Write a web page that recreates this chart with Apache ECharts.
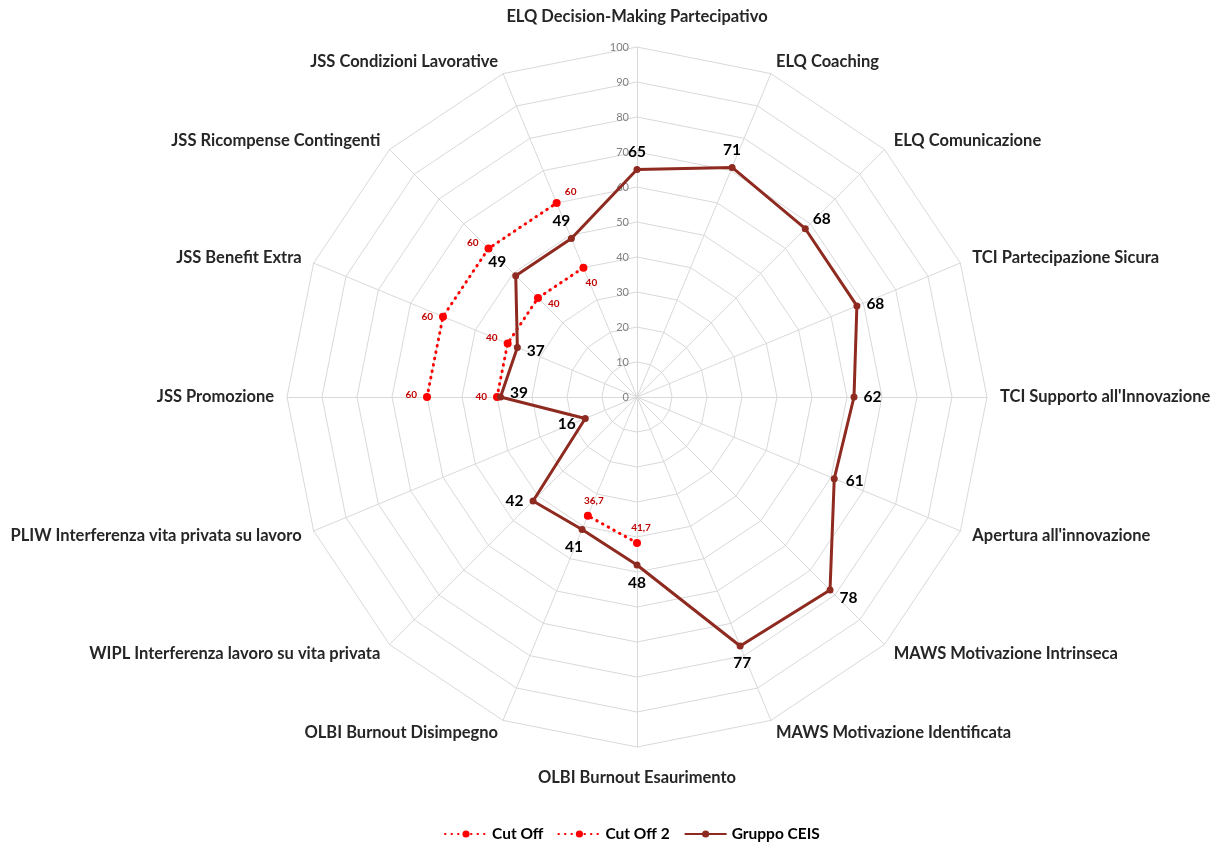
<!DOCTYPE html>
<html>
<head>
<meta charset="utf-8">
<script src="https://cdn.jsdelivr.net/npm/echarts@6/dist/echarts.min.js"></script>
<style>
html,body{margin:0;padding:0;background:#fff;}
#chart{width:1219px;height:843px;}
</style>
</head>
<body>
<div id="chart"></div>
<script>
// ---- data (clockwise from top) ----
var categories = [
  "ELQ Decision-Making Partecipativo",
  "ELQ Coaching",
  "ELQ Comunicazione",
  "TCI Partecipazione Sicura",
  "TCI Supporto all'Innovazione",
  "Apertura all'innovazione",
  "MAWS Motivazione Intrinseca",
  "MAWS Motivazione Identificata",
  "OLBI Burnout Esaurimento",
  "OLBI Burnout Disimpegno",
  "WIPL Interferenza lavoro su vita privata",
  "PLIW Interferenza vita privata su lavoro",
  "JSS Promozione",
  "JSS Benefit Extra",
  "JSS Ricompense Contingenti",
  "JSS Condizioni Lavorative"
];
var cutOff   = [null,null,null,null,null,null,null,null,41.7,36.7,null,null,60,60,60,60];
var cutOff2  = [null,null,null,null,null,null,null,null,null,null,null,null,40,40,40,40];
var gruppoCEIS = [65,71,68,68,62,61,78,77,48,41,42,16,39,37,49,49];
var radiusTicks = [0,10,20,30,40,50,60,70,80,90,100];

// ---- label placement (style only) ----
var ceisLabelPos = [
  ['top',0,0],['top',0,0],['right',-2,-10],['right',0,-2],['right',0,0],['right',2,2],
  ['right',0,8],['bottom',2,0],['bottom',0,0],['bottom',-8,0],['left',0,0],['left',0,6],
  ['right',0,-4],['right',0,4],['left',0,-14],['top',-10,0]
];
var cutLabelPos = {8:['top',4,0],9:['top',6,0],12:['left',0,-2],13:['left',0,0],14:['left',0,-6],15:['top',14,4]};
var cut2LabelPos = {12:['left',0,0],13:['left',0,-6],14:['right',0,6],15:['bottom',8,0]};

var CENTER = [637, 397], RADIUS = 350;
var N = categories.length;
var NAME_FONT = { color: '#262626', fontWeight: 'bold', fontSize: 16.5, fontFamily: 'Lato' };
var fmt = function (p) { return String(p.value[0]).replace('.', ','); };

// angle dimension = category index on a value angle axis spanning [0, N]
function buildData(values, posMap, closeLoop) {
  var out = [];
  values.forEach(function (v, i) {
    var item = { value: [v, i] };
    var p = posMap[i];
    if (p) item.label = { position: p[0], offset: [p[1], p[2]] };
    out.push(item);
  });
  if (closeLoop) {
    out.push({ value: [values[0], N], symbol: 'none', label: { show: false } });
  }
  return out;
}
function toMap(arr) { var m = {}; arr.forEach(function (p, i) { m[i] = p; }); return m; }

// radar indicators: ECharts radar runs counter-clockwise, so reverse after the first
var radarOrder = [categories[0]].concat(categories.slice(1).reverse());

var chart = echarts.init(document.getElementById('chart'), null, { renderer: 'canvas' });
chart.setOption({
  backgroundColor: '#ffffff',
  animation: false,
  textStyle: { fontFamily: 'Lato' },
  radar: {
    center: CENTER,
    radius: RADIUS,
    startAngle: 90,
    shape: 'polygon',
    splitNumber: 10,
    indicator: radarOrder.map(function (n) { return { name: n, min: 0, max: 100 }; }),
    nameGap: 13,
    axisName: Object.assign({}, NAME_FONT, {
      formatter: function (name) {
        if (name === categories[0]) return '{t|' + name + '}';
        if (name === categories[8]) return '{b|' + name + '}';
        return name;
      },
      rich: {
        t: Object.assign({ padding: [0, 0, 9, 0] }, NAME_FONT),
        b: Object.assign({ padding: [9, 0, 0, 0] }, NAME_FONT)
      }
    }),
    splitLine: { lineStyle: { color: '#d9d9d9', width: 1 } },
    axisLine: { lineStyle: { color: '#d9d9d9', width: 1 } },
    splitArea: { show: false },
    axisTick: { show: false },
    axisLabel: { show: false }
  },
  polar: { center: CENTER, radius: RADIUS },
  angleAxis: {
    type: 'value', min: 0, max: N, interval: 1, startAngle: 90, clockwise: true,
    axisLine: { show: false }, axisTick: { show: false }, axisLabel: { show: false }, splitLine: { show: false }
  },
  radiusAxis: {
    type: 'value', min: radiusTicks[0], max: radiusTicks[radiusTicks.length - 1], interval: 10,
    axisLine: { show: false }, axisTick: { show: false }, splitLine: { show: false },
    axisLabel: { color: '#808080', fontSize: 11, fontFamily: 'Lato' }
  },
  legend: {
    top: 821, left: 439, itemWidth: 42, itemHeight: 9, itemGap: 14,
    textStyle: { color: '#000', fontWeight: 'bold', fontSize: 15.5, fontFamily: 'Lato' },
    data: ['Cut Off', 'Cut Off 2', 'Gruppo CEIS']
  },
  series: [
    {
      name: 'Cut Off', type: 'line', coordinateSystem: 'polar', clip: false,
      data: buildData(cutOff, cutLabelPos, false),
      connectNulls: false,
      symbol: 'circle', symbolSize: 8,
      itemStyle: { color: '#ff0000' },
      lineStyle: { color: '#ff0000', width: 3, type: [0.5, 6], cap: 'round' },
      label: { show: true, color: '#c00000', fontSize: 10, fontWeight: 'bold', formatter: fmt, distance: 6 },
      z: 3
    },
    {
      name: 'Cut Off 2', type: 'line', coordinateSystem: 'polar', clip: false,
      data: buildData(cutOff2, cut2LabelPos, false),
      connectNulls: false,
      symbol: 'circle', symbolSize: 8,
      itemStyle: { color: '#ff0000' },
      lineStyle: { color: '#ff0000', width: 3, type: [0.5, 6], cap: 'round' },
      label: { show: true, color: '#c00000', fontSize: 10, fontWeight: 'bold', formatter: fmt, distance: 6 },
      z: 3
    },
    {
      name: 'Gruppo CEIS', type: 'line', coordinateSystem: 'polar', clip: false,
      data: buildData(gruppoCEIS, toMap(ceisLabelPos), true),
      symbol: 'circle', symbolSize: 7,
      itemStyle: { color: '#8e2a1f' },
      lineStyle: { color: '#8e2a1f', width: 3 },
      label: { show: true, color: '#000', fontSize: 15.5, fontWeight: 'bold', formatter: fmt, distance: 6 },
      z: 4
    }
  ]
});
</script>
</body>
</html>
